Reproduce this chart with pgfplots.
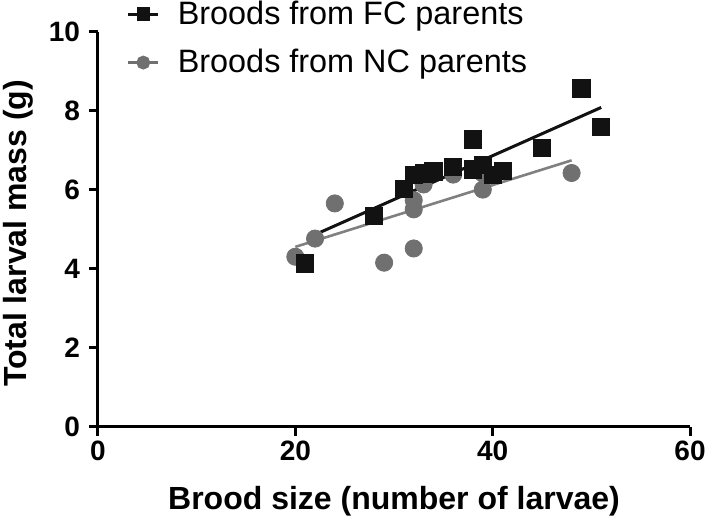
\documentclass[border=0pt]{standalone}
\usepackage{fontspec}
\setmainfont{Liberation Sans}
\usepackage{pgfplots}
\pgfplotsset{compat=1.18}
\definecolor{ncgray}{RGB}{112,112,112}
\definecolor{nclinegray}{RGB}{128,128,128}
\definecolor{fcblack}{RGB}{18,18,18}
\begin{document}
\begin{tikzpicture}
\useasboundingbox (-49pt,-45.5pt) rectangle (304pt,213.5pt);
\begin{axis}[
  scale only axis,
  width=296pt, height=197.5pt,
  xmin=0, xmax=60, ymin=0, ymax=10,
  xtick={0,20,40,60}, ytick={0,2,4,6,8,10},
  axis x line*=bottom, axis y line*=left,
  axis line style={line width=1.5pt, -},
  tick style={line width=1.5pt, black},
  tick align=outside, major tick length=4.5pt,
  /pgf/number format/assume math mode=true,
  ticklabel style={font=\fontsize{14}{14}\selectfont\bfseries},
  xticklabel style={yshift=1pt},
  yticklabel style={xshift=-1pt},
  xlabel={Brood size (number of larvae)},
  ylabel={Total larval mass (g)},
  label style={font=\fontsize{16}{16}\selectfont\bfseries},
  xlabel style={at={(axis description cs:0.5,-0.21)}, anchor=base},
  ylabel style={at={(axis description cs:-0.12,0.49)}, anchor=base},
  clip=false,
  legend style={at={(axis description cs:0.048,1.09)}, anchor=north west,
    draw=none, fill=none, font=\fontsize{16.2}{16.2}\selectfont,
    row sep=7pt, column sep=7pt, inner sep=0pt},
  legend cell align=left,
  legend image code/.code={
    \draw[#1, mark repeat=2, mark phase=2] plot coordinates {(0pt,0pt) (7.5pt,0pt) (15pt,0pt)};
  },
]
\addplot[fcblack, line width=1.5pt, mark=square*, mark size=2.6pt, mark options={solid, fill=fcblack, draw=fcblack}]
  coordinates {(-100,-100)};
\addlegendentry{Broods from FC parents}
\addplot[ncgray, line width=1.5pt, mark=*, mark size=2.7pt, mark options={solid, fill=ncgray, draw=ncgray}]
  coordinates {(-100,-100)};
\addlegendentry{Broods from NC parents}
% regression lines
\addplot[fcblack, line width=1.5pt, forget plot] coordinates {(22,4.87) (51,8.09)};
\addplot[nclinegray, line width=1.3pt, forget plot] coordinates {(20,4.56) (48,6.75)};
% NC parents (circles)
\addplot[only marks, mark=*, mark size=4.3pt, color=ncgray, fill=ncgray, forget plot] coordinates {
(20,4.31) (22,4.77) (24,5.66) (29,4.16) (32,4.52) (32,5.51) (32,5.74)
(33,6.14) (36,6.39) (39,6.01) (39,6.42) (48,6.43)
};
% FC parents (squares)
\addplot[only marks, mark=square*, mark size=4.3pt, color=fcblack, fill=fcblack, forget plot] coordinates {
(21,4.14) (28,5.34) (31,6.02) (32,6.38) (33,6.42) (34,6.47) (36,6.58)
(38,7.28) (38,6.52) (39,6.64) (40,6.39) (41,6.48) (45,7.07) (49,8.57) (51,7.59)
};
\end{axis}
\end{tikzpicture}
\end{document}
